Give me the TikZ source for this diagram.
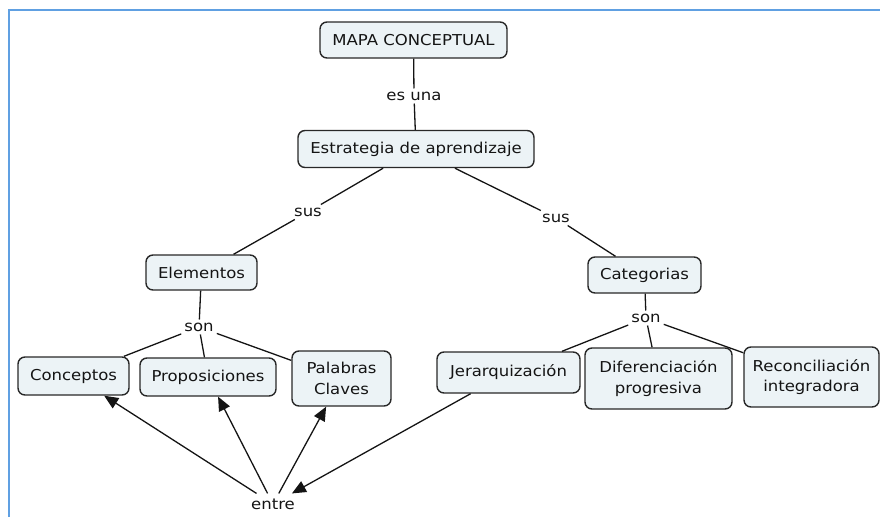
\documentclass[tikz,border=0pt]{standalone}
\usepackage{fontspec}
\setmainfont{DejaVu Sans}[FakeStretch=1.1]
\usetikzlibrary{arrows.meta}
\definecolor{frameblue}{RGB}{96,160,226}
\definecolor{boxfill}{RGB}{236,243,246}
\definecolor{boxline}{RGB}{40,40,40}
\definecolor{ink}{RGB}{20,20,20}
\tikzset{
  concept/.style={draw=boxline, fill=boxfill, line width=1.4pt, rounded corners=7pt,
    inner sep=0pt, align=center, text=ink,
    font=\fontsize{15}{20.5}\selectfont},
  linkword/.style={inner sep=3pt, text=ink, font=\fontsize{15}{18}\selectfont},
  link/.style={draw=ink, line width=1.3pt},
  arrowlink/.style={link, -{Triangle[length=14pt,width=12pt]}},
}
\begin{document}
\begin{tikzpicture}[x=1pt,y=-1pt]
  \useasboundingbox (0,0) rectangle (880,517);
  % frame along the top and left edges
  \draw[frameblue, line width=2.4pt] (9,517) -- (9,10) -- (880,10);

  % concepts
  \node[concept, minimum width=187pt, minimum height=36pt] (map)  at (413.5,40)  {MAPA CONCEPTUAL};
  \node[concept, minimum width=236pt, minimum height=37pt] (estr) at (416,149)   {Estrategia de aprendizaje};
  \node[concept, minimum width=111pt, minimum height=35pt] (elem) at (201.5,272.5) {Elementos};
  \node[concept, minimum width=113pt, minimum height=36pt] (cat)  at (644.5,275) {Categorias};
  \node[concept, minimum width=111pt, minimum height=38pt] (conc) at (73.5,376)  {Conceptos};
  \node[concept, minimum width=136pt, minimum height=38pt] (prop) at (208,377)   {Proposiciones};
  \node[concept, minimum width=99pt,  minimum height=55pt] (pal)  at (341.5,378.5) {Palabras\\Claves};
  \node[concept, minimum width=143pt, minimum height=41pt] (jer)  at (508.5,372.5) {Jerarquización};
  \node[concept, minimum width=147pt, minimum height=61pt] (dif)  at (658.5,378.5) {Diferenciación\\progresiva};
  \node[concept, minimum width=135pt, minimum height=60pt] (rec)  at (811.5,377)  {Reconciliación\\integradora};

  % linking words
  \node[linkword] (esuna) at (414,96)  {es una};
  \node[linkword] (susl)  at (308,212) {sus};
  \node[linkword] (susr)  at (556,218) {sus};
  \node[linkword] (sonl)  at (199,327) {son};
  \node[linkword] (sonr)  at (646,318) {son};
  \node[linkword, inner sep=5pt] (entre) at (273,504) {entre};

  % plain links
  \draw[link] (map) -- (esuna);
  \draw[link] (esuna) -- (estr);
  \draw[link] (estr) -- (susl);
  \draw[link] (susl) -- (elem);
  \draw[link] (estr) -- (susr);
  \draw[link] (susr) -- (cat);
  \draw[link] (elem) -- (sonl);
  \draw[link] (sonl) -- (conc);
  \draw[link] (sonl) -- (prop);
  \draw[link] (sonl) -- (pal);
  \draw[link] (cat) -- (sonr);
  \draw[link] (sonr) -- (jer);
  \draw[link] (sonr) -- (dif);
  \draw[link] (sonr) -- (rec);

  % directed links
  \draw[arrowlink] (jer) -- (entre);
  \draw[arrowlink] (entre) -- (conc);
  \draw[arrowlink] (entre) -- (prop);
  \draw[arrowlink] (entre) -- (pal);
\end{tikzpicture}
\end{document}
